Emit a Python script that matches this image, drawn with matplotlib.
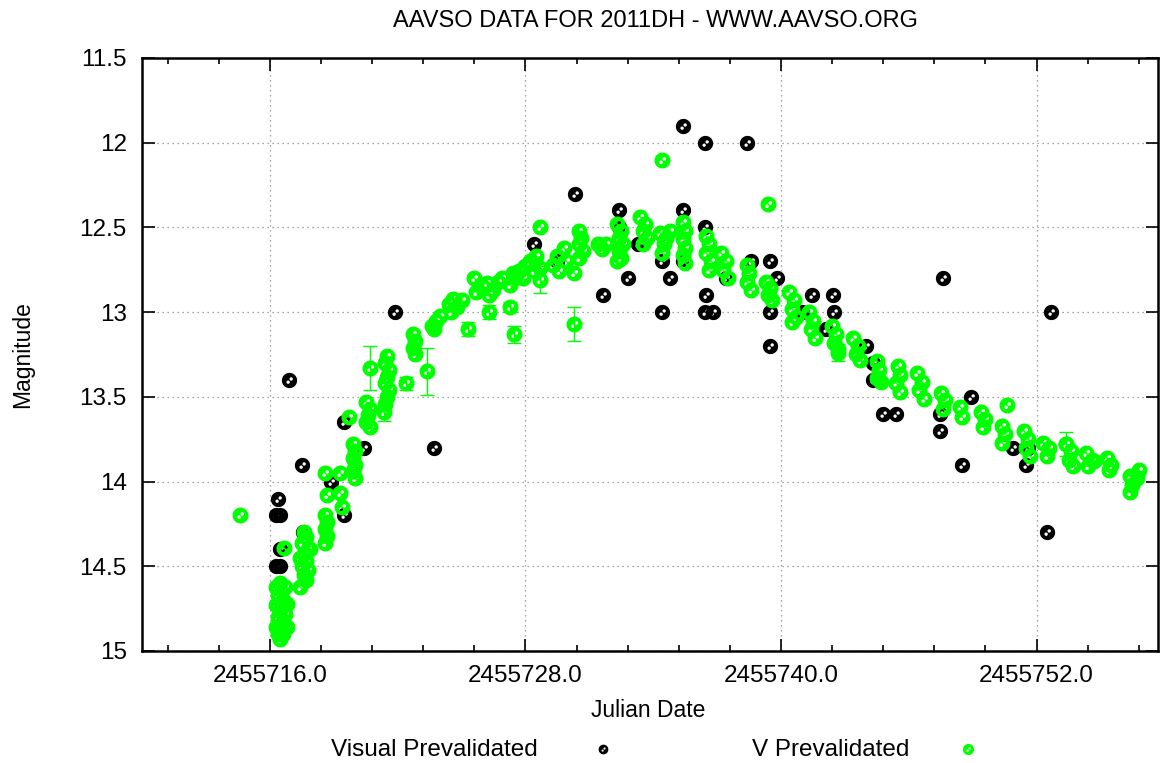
import numpy as np
import matplotlib
matplotlib.use("Agg")
import matplotlib.pyplot as plt
from matplotlib.path import Path
from matplotlib.ticker import FixedLocator, FormatStrFormatter, FuncFormatter

plt.rcParams['font.family'] = ['Liberation Sans', 'DejaVu Sans']

# Visual Prevalidated (black)
vis_jd = [2455716.4, 2455716.3, 2455716.5, 2455716.5, 2455716.3, 2455716.5, 2455716.9,
          2455717.5, 2455717.55, 2455718.85, 2455719.5, 2455719.5, 2455720.4, 2455721.9,
          2455723.7, 2455728.4, 2455729.5, 2455730.35, 2455731.65, 2455732.4, 2455732.4,
          2455732.8, 2455733.3, 2455734.4, 2455734.8, 2455734.4, 2455735.4, 2455735.4,
          2455735.4, 2455736.45, 2455736.45, 2455736.5, 2455736.45, 2455736.8, 2455737.4,
          2455738.4, 2455738.6, 2455739.5, 2455739.8, 2455739.5, 2455739.5, 2455741.0,
          2455741.45, 2455742.45, 2455742.5, 2455742.1, 2455744.0, 2455744.3, 2455744.3,
          2455744.8, 2455745.4, 2455747.6, 2455747.45, 2455747.45, 2455748.5, 2455748.9,
          2455750.9, 2455751.5, 2455751.6, 2455752.5, 2455752.7]
vis_mag = [14.1, 14.2, 14.2, 14.4, 14.5, 14.5, 13.4,
           13.9, 14.3, 14.0, 14.2, 13.65, 13.8, 13.0,
           13.8, 12.6, 12.7, 12.3, 12.9, 12.4, 12.5,
           12.8, 12.6, 12.7, 12.8, 13.0, 11.9, 12.4,
           12.7, 12.0, 12.5, 12.9, 13.0, 13.0, 12.8,
           12.0, 12.7, 12.7, 12.8, 13.0, 13.2, 13.0,
           12.9, 12.9, 13.0, 13.1, 13.2, 13.3, 13.4,
           13.6, 13.6, 12.8, 13.6, 13.7, 13.9, 13.5,
           13.8, 13.9, 13.8, 14.3, 13.0]

# V Prevalidated (green)
v_jd = [2455714.6,
        2455716.3, 2455716.5, 2455716.4, 2455716.6, 2455716.3, 2455716.5, 2455716.7,
        2455716.4, 2455716.6, 2455716.3, 2455716.5, 2455716.6, 2455716.5, 2455716.8,
        2455716.7, 2455716.8, 2455716.4,
        2455716.65,
        2455717.6, 2455717.7, 2455717.5, 2455717.8, 2455717.6, 2455717.7, 2455717.5,
        2455717.8, 2455717.6, 2455717.4, 2455717.7, 2455717.9, 2455717.4,
        2455718.6, 2455718.7, 2455718.6, 2455718.7, 2455718.6, 2455718.7, 2455718.6,
        2455719.3, 2455719.3, 2455719.4,
        2455719.9, 2455720.0, 2455719.9, 2455720.0, 2455719.9, 2455720.0, 2455719.7,
        2455720.5, 2455720.7, 2455720.6, 2455720.5, 2455720.7,
        2455721.5, 2455721.4, 2455721.6, 2455721.5, 2455721.4, 2455721.6, 2455721.5, 2455721.4,
        2455722.7, 2455722.8, 2455722.7, 2455722.8,
        2455723.6, 2455723.8, 2455724.0, 2455723.7,
        2455724.4, 2455724.6, 2455724.8, 2455725.0, 2455724.5,
        2455725.6, 2455725.7, 2455726.0, 2455726.2, 2455726.5, 2455726.7, 2455726.9, 2455726.3,
        2455727.3, 2455727.5, 2455727.7, 2455727.9, 2455728.0, 2455727.4,
        2455728.2, 2455728.5, 2455728.7, 2455728.4, 2455728.7,
        2455729.3, 2455729.5, 2455729.8, 2455729.6, 2455729.9, 2455730.3,
        2455730.5, 2455730.6, 2455730.5, 2455730.7, 2455730.5,
        2455731.4, 2455731.6, 2455731.8,
        2455732.3, 2455732.5, 2455732.4, 2455732.6, 2455732.4, 2455732.5,
        2455733.4, 2455733.6, 2455733.5, 2455733.7, 2455733.5,
        2455734.3, 2455734.6, 2455734.8, 2455734.5, 2455734.4, 2455734.4,
        2455735.4, 2455735.5, 2455735.4, 2455735.5, 2455735.4, 2455735.5,
        2455736.5, 2455736.6, 2455736.5, 2455736.7, 2455736.6,
        2455737.2, 2455737.4, 2455737.3, 2455737.5,
        2455738.4, 2455738.5, 2455738.4, 2455738.6, 2455739.4,
        2455739.3, 2455739.5, 2455739.4, 2455739.6,
        2455740.4, 2455740.6, 2455740.5, 2455740.7, 2455740.5,
        2455741.3, 2455741.5, 2455741.4, 2455741.6,
        2455742.4, 2455742.6, 2455742.5, 2455742.7,
        2455743.4, 2455743.6, 2455743.5, 2455743.7,
        2455744.5, 2455744.6, 2455744.5, 2455744.7,
        2455745.5, 2455745.6, 2455745.4, 2455745.6,
        2455746.4, 2455746.6, 2455746.5, 2455746.7,
        2455747.5, 2455747.7, 2455747.6,
        2455748.4, 2455748.5,
        2455749.4, 2455749.6, 2455749.5, 2455750.6,
        2455750.4, 2455750.5, 2455750.4,
        2455751.4, 2455751.6, 2455751.5, 2455751.7,
        2455752.3, 2455752.6, 2455752.5,
        2455753.4, 2455753.6, 2455753.5, 2455753.7,
        2455754.3, 2455754.6, 2455754.4, 2455754.7,
        2455755.3, 2455755.5, 2455755.4,
        2455756.4, 2455756.5, 2455756.4, 2455756.8, 2455756.7]
v_mag = [14.2,
         14.62, 14.6, 14.67, 14.7, 14.73, 14.76, 14.78,
         14.8, 14.83, 14.86, 14.88, 14.9, 14.93, 14.72,
         14.62, 14.86, 14.9,
         14.39,
         14.3, 14.33, 14.36, 14.4, 14.43, 14.47, 14.5,
         14.52, 14.55, 14.62, 14.58, 14.4, 14.45,
         13.95, 14.08, 14.2, 14.24, 14.28, 14.32, 14.36,
         13.95, 14.07, 14.15,
         13.78, 13.82, 13.86, 13.9, 13.94, 13.98, 13.62,
         13.53, 13.57, 13.61, 13.65, 13.68,
         13.26, 13.3, 13.34, 13.38, 13.42, 13.46, 13.5, 13.54,
         13.13, 13.17, 13.21, 13.25,
         13.08, 13.05, 13.02, 13.1,
         12.95, 12.92, 12.97, 12.93, 13.0,
         12.8, 12.88, 12.85, 12.83, 12.87, 12.82, 12.8, 12.9,
         12.84, 12.8, 12.76, 12.8, 12.73, 12.77,
         12.7, 12.67, 12.74, 12.76, 12.5,
         12.72, 12.67, 12.62, 12.76, 12.7, 12.77,
         12.52, 12.56, 12.6, 12.64, 12.68,
         12.6, 12.63, 12.6,
         12.48, 12.52, 12.56, 12.6, 12.64, 12.68,
         12.44, 12.48, 12.52, 12.56, 12.6,
         12.53, 12.56, 12.52, 12.6, 12.1, 12.65,
         12.47, 12.52, 12.57, 12.62, 12.66, 12.71,
         12.55, 12.6, 12.65, 12.7, 12.75,
         12.65, 12.7, 12.75, 12.8,
         12.72, 12.77, 12.82, 12.87, 12.36,
         12.82, 12.86, 12.9, 12.93,
         12.88, 12.93, 12.98, 13.03, 13.06,
         13.0, 13.05, 13.1, 13.15,
         13.08, 13.13, 13.18, 13.22,
         13.15, 13.2, 13.25, 13.28,
         13.29, 13.34, 13.39, 13.41,
         13.32, 13.37, 13.42, 13.47,
         13.36, 13.41, 13.46, 13.51,
         13.48, 13.52, 13.57,
         13.56, 13.62,
         13.59, 13.63, 13.68, 13.55,
         13.67, 13.72, 13.77,
         13.7, 13.75, 13.8, 13.85,
         13.77, 13.8, 13.85,
         13.78, 13.82, 13.87, 13.91,
         13.83, 13.87, 13.91, 13.88,
         13.86, 13.9, 13.93,
         13.97, 14.02, 14.06, 13.93, 13.98]

# V points with visible error bars
err_jd = [2455720.7, 2455721.35, 2455722.4, 2455723.4, 2455725.3, 2455726.3, 2455727.3,
          2455727.45, 2455728.7, 2455730.3, 2455732.3, 2455742.7, 2455753.4]
err_mag = [13.33, 13.59, 13.42, 13.35, 13.1, 13.0, 12.97,
           13.13, 12.81, 13.07, 12.7, 13.24, 13.78]
err_val = [0.13, 0.05, 0.04, 0.14, 0.04, 0.04, 0.03,
           0.05, 0.08, 0.1, 0.02, 0.05, 0.07]

x_ticks = [2455716.0, 2455728.0, 2455740.0, 2455752.0]
y_ticks = [11.5, 12, 12.5, 13, 13.5, 14, 14.5, 15]

GREEN = '#00ff00'


def ring_marker():
    # gnuplot-like disc with two small white specks
    t = np.linspace(0, 2 * np.pi, 40)
    verts, codes = [], []
    outer = np.column_stack([np.cos(t), np.sin(t)])
    verts += list(outer)
    codes += [Path.MOVETO] + [Path.LINETO] * (len(t) - 2) + [Path.CLOSEPOLY]
    for cx, cy in [(0.22, 0.2), (-0.18, -0.22)]:
        inner = np.column_stack([cx + 0.22 * np.cos(-t), cy + 0.22 * np.sin(-t)])
        verts += list(inner)
        codes += [Path.MOVETO] + [Path.LINETO] * (len(t) - 2) + [Path.CLOSEPOLY]
    return Path(np.array(verts), codes)


mk = ring_marker()

fig = plt.figure(figsize=(11.68, 7.63), dpi=100)
ax = fig.add_axes([0.1216, 0.1468, 0.8698, 0.7772])

ax.plot(vis_jd, vis_mag, linestyle='none', marker=mk, markersize=11,
        color='black', markeredgewidth=0, zorder=3)
ax.errorbar(err_jd, err_mag, yerr=err_val, fmt='none', ecolor=GREEN,
            elinewidth=1, capsize=5, capthick=1, zorder=4)
ax.plot(err_jd, err_mag, linestyle='none', marker=mk, markersize=11.5,
        color=GREEN, markeredgewidth=0, zorder=5)
ax.plot(v_jd, v_mag, linestyle='none', marker=mk, markersize=11.5,
        color=GREEN, markeredgewidth=0, zorder=5)

ax.set_xlim(2455710.0, 2455757.7)
ax.set_ylim(15, 11.5)

ax.xaxis.set_major_locator(FixedLocator(x_ticks))
ax.xaxis.set_major_formatter(FormatStrFormatter('%.1f'))
minor = [x_ticks[0] + 2.4 * k for k in range(-3, 20)]
ax.xaxis.set_minor_locator(FixedLocator(minor))
ax.yaxis.set_major_locator(FixedLocator(y_ticks))
ax.yaxis.set_major_formatter(FuncFormatter(lambda v, p: f'{v:g}'))

ax.tick_params(which='both', direction='in', top=True, right=True,
               labelsize=17.5, width=1.2, color='black')
ax.tick_params(which='major', length=9)
ax.tick_params(which='minor', length=4)
ax.tick_params(axis='x', pad=10)
ax.tick_params(axis='y', pad=11)

ax.grid(True, which='major', linestyle=(0, (1, 3)), color='#888888', linewidth=0.9)
ax.set_axisbelow(True)
for s in ax.spines.values():
    s.set_linewidth(1.8)
    s.set_color('black')

fig.text(0.561, 0.973, 'AAVSO DATA FOR 2011DH - WWW.AAVSO.ORG',
         ha='center', va='center', fontsize=17)
fig.text(0.555, 0.069, 'Julian Date', ha='center', va='center', fontsize=16.5)
fig.text(0.019, 0.535, 'Magnitude', ha='center', va='center', fontsize=16.5,
         rotation=90)

fig.text(0.283, 0.017, 'Visual Prevalidated', ha='left', va='center', fontsize=17.5)
fig.text(0.644, 0.017, 'V Prevalidated', ha='left', va='center', fontsize=17.5)
fig.lines.append(plt.Line2D([0.5163], [0.019], transform=fig.transFigure,
                            linestyle='none', marker=mk, markersize=7,
                            color='black', markeredgewidth=0))
fig.lines.append(plt.Line2D([0.8288], [0.019], transform=fig.transFigure,
                            linestyle='none', marker=mk, markersize=8,
                            color=GREEN, markeredgewidth=0))

fig.savefig('out.png', dpi=100)
